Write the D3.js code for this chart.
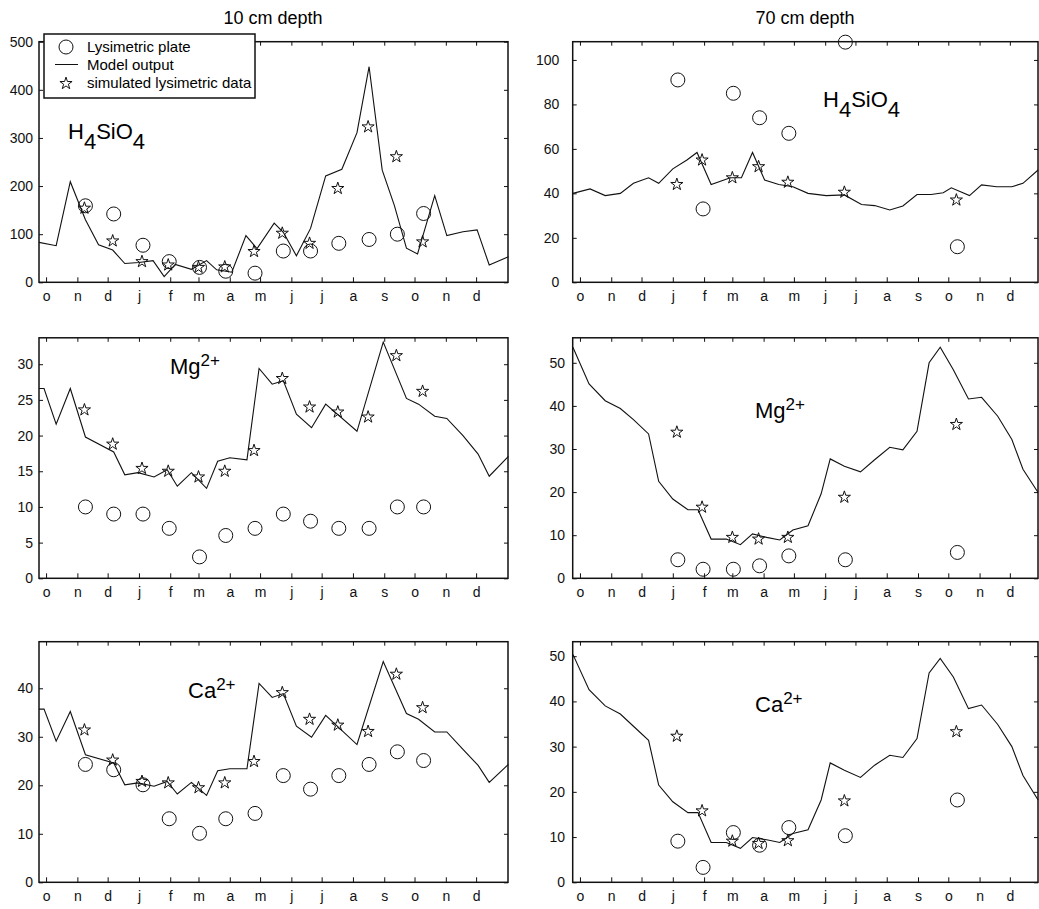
<!DOCTYPE html>
<html>
<head>
<meta charset="utf-8">
<script src="https://cdn.jsdelivr.net/npm/d3@7"></script>
<style>
  body { margin: 0; background: #fff; }
  svg { font-family: "Liberation Sans", Arial, sans-serif; }
  .box { fill: none; stroke: #111; stroke-width: 1.5; }
  .axis line { stroke: #111; stroke-width: 1; }
  .axis path { display: none; }
  .axis text { fill: #111; font-size: 14px; }
  .model { fill: none; stroke: #111; stroke-width: 1.1; }
  .plate, .sim { fill: none; stroke: #111; stroke-width: 1; }
</style>
</head>
<body>
<script>
// x values are days counted from 1 October
var months = ['o','n','d','j','f','m','a','m','j','j','a','s','o','n','d']

var plateDays10 = [39, 67, 96, 122, 152, 178, 207, 235, 262, 290, 320, 348, 374]
var plateDays70 = [97, 122, 152, 178, 207, 263, 374]

// H4SiO4
var si10Plate = [159, 142, 77, 43, 31, 23, 19, 65, 65, 81, 89, 100, 143]
var si10Sim = [154, 86, 43, 36, 31, 32, 64, 102, 81, 195, 323, 261, 84]
var si10Model = [[-7,83],[10,76],[24,209],[39,130],[52,78],[66,67],[78,39],[92,41],[106,45],[117,12],[128,37],[144,27],[159,45],[169,26],[184,21],[198,97],[209,70],[226,123],[235,104],[248,55],[262,112],[277,221],[293,235],[308,311],[320,448],[333,233],[345,160],[357,71],[368,59],[385,180],[397,97],[413,105],[427,109],[439,36],[458,53]]
var si70Plate = [91, 33, 85, 74, 67, 108, 16]
var si70Sim = [44, 55, 47, 52, 45, 40.5, 37]
var si70Model = [[-7,40],[10,42],[25,39],[40,40],[53,44.5],[68,47],[78,44.5],[92,51],[106,55],[116,58.4],[130,44],[149,47],[160,47],[171,58.4],[183,46],[197,44],[211,43],[226,40],[244,39],[262,39.3],[279,35],[292,34.5],[307,32.5],[320,34.3],[334,39.5],[348,39.5],[360,40.3],[368,42.5],[386,39],[398,43.8],[413,43],[428,43],[439,44.5],[454,50.5]]

// Mg2+
var mg10Plate = [10, 9, 9, 7, 3, 6, 7, 9, 8, 7, 7, 10, 10]
var mg10Sim = [23.6, 18.8, 15.4, 15, 14.2, 15, 17.9, 28, 24, 23.3, 22.6, 31.2, 26.2]
var mg10Model = [[-7,26.6],[-2,26.6],[10,21.6],[24,26.6],[39,19.8],[67,17.7],[78,14.5],[91,14.8],[107,14.2],[120,15.2],[130,12.9],[144,14.8],[159,12.6],[170,16.4],[182,16.9],[199,16.6],[211,29.4],[224,27.2],[235,27.7],[248,23],[263,21.1],[277,24.4],[308,20.6],[334,33.1],[357,25.2],[369,24.4],[385,22.7],[397,22.4],[413,20],[428,17.4],[439,14.3],[458,17.1]]
var mg70Plate = [4.3, 2.1, 2.1, 2.9, 5.2, 4.3, 6]
var mg70Sim = [33.9, 16.5, 9.5, 9.1, 9.5, 18.8, 35.7]
var mg70Model = [[-7,53.6],[9,45.1],[25,41.2],[40,39.4],[53,36.8],[68,33.5],[78,22.5],[92,18.4],[107,15.9],[117,15.9],[130,9.1],[145,9.1],[159,7.8],[171,10.3],[185,9.5],[198,8.9],[211,11.2],[226,12.2],[239,19.6],[248,27.7],[262,26],[278,24.7],[292,27.5],[307,30.4],[320,29.8],[334,34.1],[346,50],[357,53.6],[370,48.4],[385,41.6],[398,42],[414,37.6],[428,32.2],[439,25.3],[454,19.9]]

// Ca2+
var ca10Plate = [24.3, 23.2, 20.1, 13.1, 10.1, 13.1, 14.2, 22, 19.2, 22, 24.3, 26.9, 25.1]
var ca10Sim = [31.4, 25.2, 20.8, 20.5, 19.5, 20.5, 24.9, 39.1, 33.6, 32.4, 31.1, 42.9, 36]
var ca10Model = [[-7,35.7],[-2,35.7],[10,29.1],[24,35.2],[39,26.3],[67,24.6],[78,20.1],[91,20.5],[107,19.8],[120,20.8],[130,18.2],[144,20.6],[159,17.9],[170,23],[182,23.4],[199,23.4],[211,41],[224,38.1],[235,38.9],[248,32.2],[263,29.9],[277,34.4],[308,28.4],[334,45.5],[357,34.8],[369,33.6],[385,31],[397,31],[413,27.4],[428,24.1],[439,20.6],[458,24.3]]
var ca70Plate = [9.1, 3.3, 11, 8.2, 12.1, 10.3, 18.2]
var ca70Sim = [32.3, 15.8, 9.1, 8.6, 9.2, 18, 33.3]
var ca70Model = [[-7,50.4],[9,42.6],[25,39],[40,37.2],[53,34.5],[68,31.4],[78,21.5],[92,17.8],[107,15.4],[117,15.4],[130,8.8],[145,8.8],[159,7.5],[171,9.9],[185,9.4],[198,8.8],[211,10.8],[226,11.6],[239,18.2],[248,26.4],[262,24.8],[278,23.2],[292,25.9],[307,28.1],[320,27.6],[334,31.8],[346,46.3],[357,49.5],[370,45.4],[385,38.4],[398,39.2],[414,34.9],[428,30],[439,23.6],[454,18.2]]

var t0 = new Date(1998, 9, 1)
var monthStarts = d3.timeMonth.range(t0, new Date(1999, 11, 2)).map(function(d) { return d3.timeDay.count(t0, d) })

var svg = d3.select('body').append('svg')
  .attr('width', 1039)
  .attr('height', 909)

svg.append('text').attr('x', 273).attr('y', 24).attr('text-anchor', 'middle')
  .attr('font-size', 18).text('10 cm depth')
svg.append('text').attr('x', 805).attr('y', 24).attr('text-anchor', 'middle')
  .attr('font-size', 18).text('70 cm depth')

var leftCol = { left: 39, right: 508, dom: [-7, 457.6] }
var rightCol = { left: 572.7, right: 1038, dom: [-7.2, 453.9] }
var rows = [[41.7, 282.3], [337.8, 578.3], [641.7, 882.3]]

function drawPanel(col, row, yMax, yStep, labelPad, model, days, plate, sim, label) {
  var top = rows[row][0], bottom = rows[row][1]
  var x = d3.scaleLinear().domain(col.dom).range([col.left, col.right])
  var y = d3.scaleLinear().domain([0, yMax]).range([bottom, top])
  var yTicks = d3.range(0, yMax + 0.001, yStep)
  var g = svg.append('g')

  g.append('g').attr('class', 'axis').attr('transform', 'translate(0,' + bottom + ')')
    .call(d3.axisBottom(x).tickValues(monthStarts).tickSize(-5).tickPadding(8.5)
      .tickFormat(function(d, i) { return months[i] }))
  g.append('g').attr('class', 'axis').attr('transform', 'translate(0,' + top + ')')
    .call(d3.axisTop(x).tickValues(monthStarts).tickSize(-4).tickFormat(''))
  g.append('g').attr('class', 'axis').attr('transform', 'translate(' + col.left + ',0)')
    .call(d3.axisLeft(y).tickValues(yTicks).tickSize(-4).tickPadding(labelPad))
  g.append('g').attr('class', 'axis').attr('transform', 'translate(' + col.right + ',0)')
    .call(d3.axisRight(y).tickValues(yTicks).tickSize(-4).tickFormat(''))
  g.selectAll('.axis').attr('font-size', null).attr('font-family', null)

  g.append('rect').attr('class', 'box')
    .attr('x', col.left).attr('y', top)
    .attr('width', col.right - col.left).attr('height', bottom - top)

  var line = d3.line().x(function(d) { return x(d[0]) }).y(function(d) { return y(d[1]) })
  g.append('path').attr('class', 'model').attr('d', line(model))

  g.selectAll('circle.plate').data(plate).enter().append('circle')
    .attr('class', 'plate')
    .attr('cx', function(d, i) { return x(days[i]) })
    .attr('cy', function(d) { return y(d) })
    .attr('r', 7)

  var star = d3.symbol().type(d3.symbolStar).size(46)
  g.selectAll('path.sim').data(sim).enter().append('path')
    .attr('class', 'sim')
    .attr('d', star)
    .attr('transform', function(d, i) { return 'translate(' + (x(days[i]) - 1) + ',' + y(d) + ')' })

  var t = g.append('text').attr('x', label.x).attr('y', label.y).attr('font-size', 22)
  label.parts.forEach(function(p) {
    var s = t.append('tspan').text(p[0])
    if (p[1]) s.attr('dy', p[1])
    if (p[2]) s.attr('font-size', p[2])
  })
  return g
}

var siParts = [['H'], ['4', 10], ['SiO', -10], ['4', 10]]
var mgParts = [['Mg'], ['2+', -8, 17]]
var caParts = [['Ca'], ['2+', -8, 17]]

drawPanel(leftCol, 0, 500, 100, 6, si10Model, plateDays10, si10Plate, si10Sim, { x: 68, y: 139, parts: siParts })
drawPanel(rightCol, 0, 108.2, 20, 13.4, si70Model, plateDays70, si70Plate, si70Sim, { x: 823, y: 107, parts: siParts })
drawPanel(leftCol, 1, 33.7, 5, 6, mg10Model, plateDays10, mg10Plate, mg10Sim, { x: 170, y: 374, parts: mgParts })
drawPanel(rightCol, 1, 55.8, 10, 7.7, mg70Model, plateDays70, mg70Plate, mg70Sim, { x: 755, y: 418, parts: mgParts })
drawPanel(leftCol, 2, 49.6, 10, 6, ca10Model, plateDays10, ca10Plate, ca10Sim, { x: 188, y: 698, parts: caParts })
drawPanel(rightCol, 2, 53.2, 10, 7.7, ca70Model, plateDays70, ca70Plate, ca70Sim, { x: 755, y: 712, parts: caParts })

// legend
var lg = svg.append('g').attr('font-size', 15)
lg.append('rect').attr('x', 44).attr('y', 34).attr('width', 211).attr('height', 64)
  .attr('fill', '#fff').attr('stroke', '#111').attr('stroke-width', 1.5)
lg.append('circle').attr('class', 'plate').attr('cx', 66).attr('cy', 47).attr('r', 7)
lg.append('text').attr('x', 87).attr('y', 52).text('Lysimetric plate')
lg.append('line').attr('x1', 55).attr('x2', 78).attr('y1', 64.5).attr('y2', 64.5).attr('stroke', '#111')
lg.append('text').attr('x', 87).attr('y', 69.5).text('Model output')
lg.append('path').attr('class', 'sim').attr('d', d3.symbol().type(d3.symbolStar).size(46))
  .attr('transform', 'translate(66,83.5)')
lg.append('text').attr('x', 87).attr('y', 88).text('simulated lysimetric data')
</script>
</body>
</html>
